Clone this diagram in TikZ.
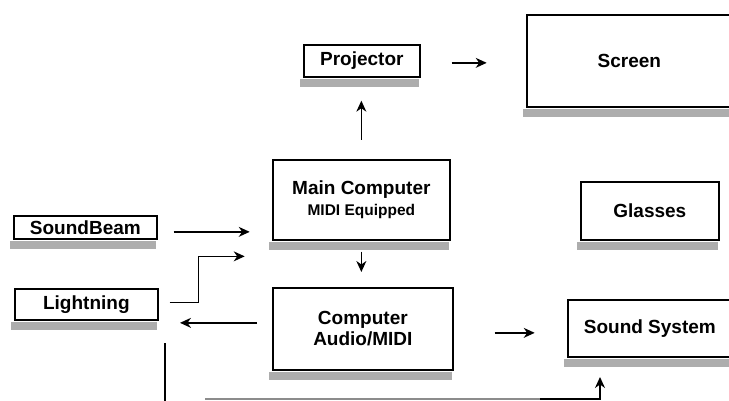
\documentclass[tikz,border=0pt]{standalone}
\usepackage{fontspec}
\setmainfont{Liberation Sans}
\usetikzlibrary{arrows.meta}
\begin{document}
\begin{tikzpicture}[x=1pt,y=-1pt,
  box/.style={draw, line width=1.7pt, inner sep=0pt, anchor=north west,
    font=\fontsize{19}{21}\selectfont\bfseries, align=center},
  arr/.style={line width=1.4pt, -{Stealth[length=11pt,width=10pt,inset=3.5pt]}},
  plain/.style={line width=1.4pt},
  shadowfill/.style={fill=black!32}]
\useasboundingbox (0,0) rectangle (729,401);
\fill[white] (0,0) rectangle (729,401);

% boxes
\node[box, minimum width=116pt, minimum height=32pt] (proj) at (303,44) {Projector};
\node[box, minimum width=205pt, minimum height=92pt] (screen) at (526,14) {Screen};
\node[box, minimum width=177pt, minimum height=80pt] (main) at (272,159)
  {Main Computer\\{\fontsize{15.5}{18}\selectfont MIDI Equipped}};
\node[box, minimum width=138pt, minimum height=58pt] (glasses) at (580,181) {Glasses};
\node[box, minimum width=143pt, minimum height=23pt] (sb) at (13,215) {SoundBeam};
\node[box, minimum width=143pt, minimum height=31pt] (lt) at (14,288) {Lightning};
\node[box, minimum width=180pt, minimum height=82pt] (audio) at (272,287) {Computer\\Audio/MIDI};
\node[box, minimum width=164pt, minimum height=57pt] (ss) at (567,299) {Sound System};

% shadows under the boxes
\foreach \n in {proj,screen,main,glasses,sb,lt,audio,ss}
  \fill[shadowfill] ([xshift=-3pt,yshift=-0.9pt]\n.south west)
    rectangle ([xshift=-2pt,yshift=-9pt]\n.south east);

% connectors
\draw[arr] ([xshift=31pt,yshift=-2pt]proj.east) -- ++(35pt,0pt);
\draw[arr, shorten <=19pt, shorten >=23pt] (main.north) -- (main.north |- proj.south);
\draw[arr, shorten <=11pt, shorten >=15pt] (main.south) -- (main.south |- audio.north);
\draw[arr] ([xshift=16pt,yshift=-4.5pt]sb.east) -- ++(76pt,0pt);
\draw[arr] ([xshift=11pt,yshift=2pt]lt.east) -- ++(29pt,0pt) -- ++(0pt,46pt) -- ++(46pt,0pt);
\draw[arr] ([xshift=-15pt,yshift=6pt]audio.west) -- ++(-77pt,0pt);
\draw[arr] ([xshift=41pt,yshift=-4pt]audio.east) -- ++(40pt,0pt);

% feed into the sound system along the bottom
\coordinate (v0) at (165,343);
\coordinate (v1) at (165,402);
\coordinate (h0) at (205,399);
\coordinate (h1) at (540,399);
\coordinate (h2) at (600,399);
\coordinate (ssin) at (600,377);
\draw[plain] (v0) -- (v1);
\draw[plain, draw=black!45] (h0) -- (h1);
\draw[arr] (h1) -- (h2) -- (ssin);
\end{tikzpicture}
\end{document}
